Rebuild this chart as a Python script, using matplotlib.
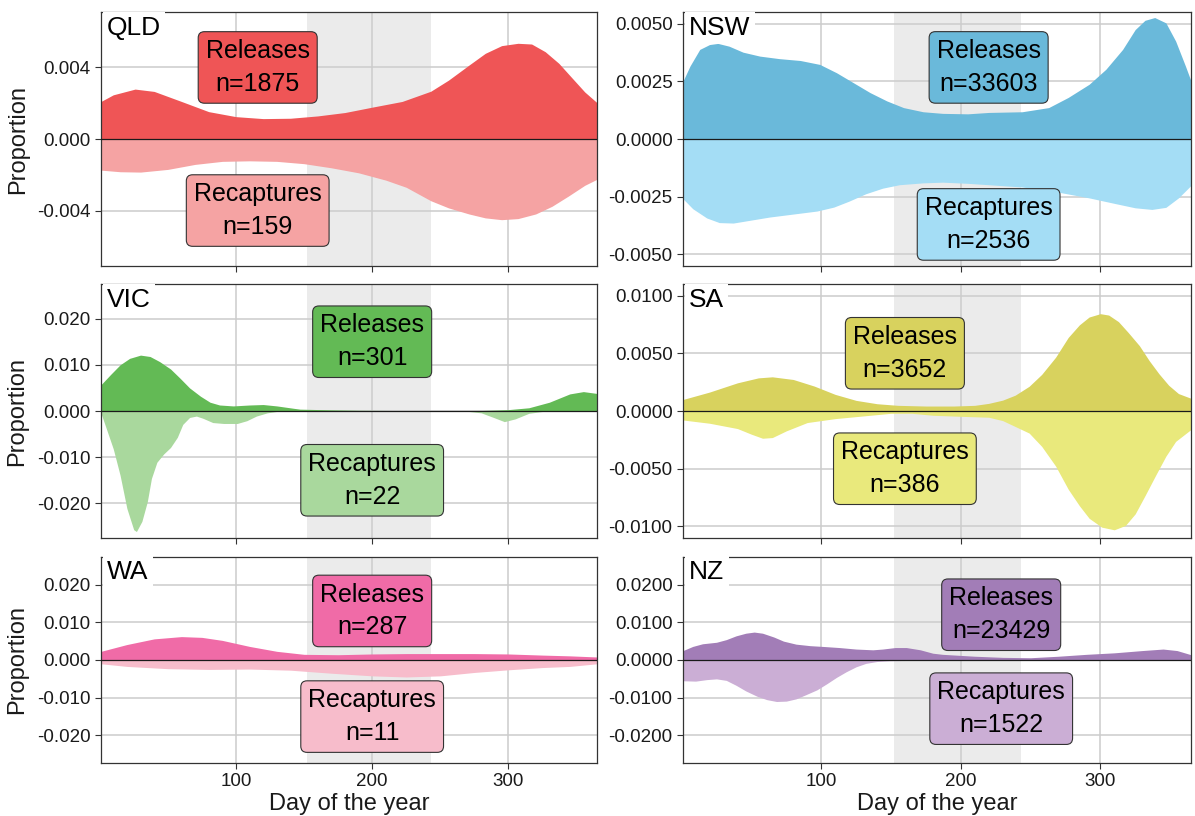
import matplotlib
matplotlib.use("Agg")
import matplotlib.pyplot as plt
from matplotlib.ticker import FormatStrFormatter

plt.rcParams["font.family"] = ["Liberation Sans", "DejaVu Sans"]

# ---- data (day of year, proportion) ----
qld_rel_days = [1, 10, 26, 40, 60, 80, 100, 120, 140, 160, 180, 200, 222, 243, 256, 271, 283, 295, 307, 317, 327,
                337, 346, 356, 365]
qld_rel_vals = [0.0021, 0.00247, 0.00279, 0.00266, 0.0021, 0.00153, 0.00125, 0.00114, 0.00116, 0.00129, 0.00148,
                0.00178, 0.0021, 0.00267, 0.00329, 0.00413, 0.00479, 0.00522, 0.00535, 0.00531, 0.00488, 0.00423,
                0.00347, 0.00263, 0.00203]
qld_rec_days = [1, 15, 30, 50, 70, 90, 110, 130, 150, 170, 190, 210, 225, 243, 256, 271, 283, 295, 307, 320, 332,
                344, 356, 365]
qld_rec_vals = [0.00174, 0.00183, 0.00185, 0.0017, 0.00142, 0.00125, 0.00122, 0.00125, 0.00138, 0.00161, 0.00189,
                0.0023, 0.0027, 0.00345, 0.00385, 0.00419, 0.00441, 0.00451, 0.00445, 0.00419, 0.00376, 0.00319,
                0.00259, 0.00225]

nsw_rel_days = [1, 6, 13, 20, 26, 34, 44, 56, 70, 85, 99, 111, 123, 135, 147, 159, 173, 187, 205, 220, 244, 263,
                277, 292, 304, 316, 325, 332, 339, 347, 354, 361, 365]
nsw_rel_vals = [0.00251, 0.00316, 0.00388, 0.00409, 0.00414, 0.00402, 0.00376, 0.00359, 0.00348, 0.0034, 0.00323,
                0.00287, 0.00244, 0.00201, 0.00165, 0.00136, 0.00118, 0.00111, 0.00109, 0.00115, 0.00118, 0.00136,
                0.0018, 0.00237, 0.00302, 0.00388, 0.00474, 0.00514, 0.00526, 0.00503, 0.00424, 0.00316, 0.00251]
nsw_rec_days = [1, 8, 18, 27, 37, 49, 63, 80, 97, 109, 120, 132, 144, 156, 173, 187, 205, 220, 244, 268, 292, 311,
                325, 337, 347, 356, 365]
nsw_rec_vals = [0.00259, 0.00302, 0.00342, 0.00362, 0.00364, 0.00352, 0.00338, 0.00325, 0.00312, 0.00295, 0.00269,
                0.00237, 0.00213, 0.00198, 0.0019, 0.00187, 0.00192, 0.00198, 0.00208, 0.00228, 0.00255, 0.0028,
                0.00298, 0.00305, 0.00296, 0.00255, 0.00201]

vic_rel_days = [1, 8, 15, 22, 30, 37, 44, 52, 59, 66, 74, 81, 88, 98, 110, 120, 130, 142, 147, 170, 190, 220, 250,
                280, 300, 315, 330, 345, 355, 365]
vic_rel_vals = [0.0057, 0.0079, 0.01, 0.0114, 0.0121, 0.0118, 0.0107, 0.0091, 0.0071, 0.005, 0.0032, 0.0019,
                0.0013, 0.0011, 0.0013, 0.0014, 0.0011, 0.0006, 0.0004, 0.00025, 0.00015, 0.0001, 0.00007, 0.0001,
                0.0003, 0.0007, 0.0019, 0.0037, 0.0042, 0.0038]
vic_rec_days = [1, 5, 10, 15, 20, 25, 27, 31, 35, 38, 42, 47, 52, 57, 61, 66, 71, 76, 83, 91, 101, 108, 115, 123,
                130, 140, 200, 270, 280, 290, 297, 305, 315, 325, 365]
vic_rec_vals = [0.0005, 0.0039, 0.0082, 0.0139, 0.0211, 0.0257, 0.0261, 0.0239, 0.0196, 0.0146, 0.0111, 0.0093,
                0.0079, 0.0057, 0.0029, 0.0014, 0.0011, 0.0016, 0.0025, 0.0027, 0.0027, 0.0021, 0.0011, 0.0004,
                0.0001, 0.0, 0.0, 0.00007, 0.0004, 0.0015, 0.0023, 0.0017, 0.0005, 0.0001, 0.0]

sa_rel_days = [1, 20, 40, 55, 65, 80, 95, 110, 125, 140, 155, 175, 195, 210, 220, 230, 239, 249, 258, 268, 277,
               285, 292, 300, 306, 313, 320, 328, 335, 342, 349, 356, 365]
sa_rel_vals = [0.001, 0.00164, 0.00244, 0.00287, 0.00296, 0.00273, 0.00216, 0.00144, 0.00092, 0.00063, 0.00049,
               0.00043, 0.00043, 0.00049, 0.00066, 0.00094, 0.00137, 0.00214, 0.00317, 0.00466, 0.00637, 0.00746,
               0.00814, 0.00843, 0.00831, 0.00774, 0.0068, 0.00566, 0.00437, 0.00323, 0.00223, 0.00151, 0.0011]
sa_rec_days = [1, 20, 40, 50, 58, 65, 75, 90, 110, 130, 150, 165, 180, 200, 220, 230, 239, 249, 258, 268, 277,
               285, 292, 301, 310, 318, 325, 332, 340, 347, 354, 365]
sa_rec_vals = [0.00078, 0.00106, 0.00152, 0.00201, 0.00236, 0.0023, 0.00172, 0.001, 0.00066, 0.00043, 0.0002,
               0.0002, 0.00037, 0.00046, 0.00054, 0.00083, 0.00134, 0.00191, 0.00306, 0.00477, 0.00677, 0.0082,
               0.00929, 0.01006, 0.01029, 0.00991, 0.00891, 0.00734, 0.00549, 0.00391, 0.00263, 0.0016]

wa_rel_days = [1, 20, 40, 60, 75, 90, 110, 130, 150, 175, 200, 225, 250, 275, 300, 325, 345, 365]
wa_rel_vals = [0.0023, 0.0041, 0.0056, 0.0062, 0.006, 0.0052, 0.0036, 0.0023, 0.0015, 0.0014, 0.0016, 0.0017,
               0.0017, 0.0017, 0.0016, 0.0013, 0.0011, 0.0008]
wa_rec_days = [1, 20, 50, 80, 110, 140, 170, 200, 225, 250, 275, 300, 325, 345, 365]
wa_rec_vals = [0.001, 0.0017, 0.0023, 0.0025, 0.0024, 0.0027, 0.0035, 0.0042, 0.0045, 0.0042, 0.0033, 0.0026,
               0.002, 0.0017, 0.001]

nz_rel_days = [1, 8, 15, 25, 32, 39, 46, 52, 58, 66, 73, 82, 92, 101, 113, 125, 137, 144, 153, 161, 171, 180, 187,
               210, 230, 250, 270, 290, 310, 330, 345, 355, 365]
nz_rel_vals = [0.0025, 0.0036, 0.0043, 0.0047, 0.0054, 0.0064, 0.0071, 0.0074, 0.0071, 0.0061, 0.005, 0.0042,
               0.0038, 0.0036, 0.0033, 0.0029, 0.0027, 0.0029, 0.0033, 0.0033, 0.0027, 0.0018, 0.0015, 0.001,
               0.0007, 0.0006, 0.001, 0.0015, 0.0019, 0.0025, 0.0029, 0.0025, 0.0014]
nz_rec_days = [1, 10, 18, 25, 32, 39, 46, 54, 61, 68, 75, 82, 89, 97, 104, 111, 118, 125, 132, 140, 149, 164, 365]
nz_rec_vals = [0.0055, 0.0056, 0.0052, 0.005, 0.0054, 0.0067, 0.0082, 0.0096, 0.0105, 0.011, 0.0109, 0.0103,
               0.0092, 0.0079, 0.0063, 0.0046, 0.0031, 0.0018, 0.0009, 0.0004, 0.0002, 0.0001, 0.0001]

regions = ["QLD", "NSW", "VIC", "SA", "WA", "NZ"]
n_releases = [1875, 33603, 301, 3652, 287, 23429]
n_recaptures = [159, 2536, 22, 386, 11, 1522]

winter = (152, 243)

# ---- styling per panel ----
rel_colors = ["#EF5556", "#6AB9DA", "#63BA55", "#D8D25E", "#F06BA7", "#A27DB7"]
rec_colors = ["#F5A3A3", "#A4DDF5", "#A9D89D", "#E9E97C", "#F7BCCB", "#CBAED5"]
ylims = [0.0071, 0.0055, 0.0275, 0.011, 0.0273, 0.0273]
yticks = [[-0.004, 0, 0.004],
          [-0.005, -0.0025, 0, 0.0025, 0.005],
          [-0.02, -0.01, 0, 0.01, 0.02],
          [-0.01, -0.005, 0, 0.005, 0.01],
          [-0.02, -0.01, 0, 0.01, 0.02],
          [-0.02, -0.01, 0, 0.01, 0.02]]
yfmt = ["%.3f", "%.4f", "%.3f", "%.4f", "%.3f", "%.4f"]
label_x = [116, 220, 200, 160, 200, 229]
label_y_rel = [0.004, 0.0031, 0.015, 0.005, 0.013, 0.012]
label_y_rec = [-0.004, -0.0037, -0.015, -0.005, -0.015, -0.0129]

series = [
    (qld_rel_days, qld_rel_vals, qld_rec_days, qld_rec_vals),
    (nsw_rel_days, nsw_rel_vals, nsw_rec_days, nsw_rec_vals),
    (vic_rel_days, vic_rel_vals, vic_rec_days, vic_rec_vals),
    (sa_rel_days, sa_rel_vals, sa_rec_days, sa_rec_vals),
    (wa_rel_days, wa_rel_vals, wa_rec_days, wa_rec_vals),
    (nz_rel_days, nz_rel_vals, nz_rec_days, nz_rec_vals),
]

fig = plt.figure(figsize=(11.95, 8.16), dpi=100)
W, H = 1195.0, 816.0
cols = [(101, 597), (683, 1191)]
rows = [(12, 266), (284, 538), (557, 763)]

for i, name in enumerate(regions):
    r, c = divmod(i, 2)
    x0, x1 = cols[c]
    y0, y1 = rows[r]
    ax = fig.add_axes([x0 / W, 1 - y1 / H, (x1 - x0) / W, (y1 - y0) / H])
    rel_d, rel_v, rec_d, rec_v = series[i]

    ax.axvspan(winter[0], winter[1], color="#EBEBEB", lw=0, zorder=0.3)
    ax.fill_between(rel_d, 0, rel_v, color=rel_colors[i], lw=0, zorder=2)
    ax.fill_between(rec_d, 0, [-v for v in rec_v], color=rec_colors[i], lw=0, zorder=2)
    ax.axhline(0, color="#1a1a1a", lw=0.9, zorder=3)

    ax.set_xlim(1, 365)
    ax.set_ylim(-ylims[i], ylims[i])
    ax.set_xticks([100, 200, 300])
    ax.set_yticks(yticks[i])
    ax.yaxis.set_major_formatter(FormatStrFormatter(yfmt[i]))
    ax.set_axisbelow(True)
    ax.grid(True, color="#CCCCCC", lw=1.1)
    ax.tick_params(labelsize=13.5, colors="#333333", labelcolor="#1a1a1a", length=4, width=0.8)
    for sp in ax.spines.values():
        sp.set_color("#333333")
        sp.set_linewidth(0.9)
    if r < 2:
        ax.tick_params(labelbottom=False)
    else:
        ax.set_xlabel("Day of the year", fontsize=17, color="#1a1a1a", labelpad=2)
    if c == 0:
        ax.set_ylabel("Proportion", fontsize=17, color="#1a1a1a", labelpad=6)

    ax.text(0.012, 0.985, name, transform=ax.transAxes, fontsize=19, ha="left", va="top",
            bbox=dict(facecolor="white", edgecolor="none", pad=3), zorder=5)

    box = dict(boxstyle="round,pad=0.3,rounding_size=0.25", edgecolor="#333333", lw=0.8)
    ax.text(label_x[i], label_y_rel[i], "Releases\nn=%d" % n_releases[i], fontsize=18, ha="center",
            va="center", linespacing=1.45, bbox=dict(box, facecolor=rel_colors[i]), zorder=6)
    ax.text(label_x[i], label_y_rec[i], "Recaptures\nn=%d" % n_recaptures[i], fontsize=18, ha="center",
            va="center", linespacing=1.45, bbox=dict(box, facecolor=rec_colors[i]), zorder=6)

fig.savefig("out.png", dpi=100)
